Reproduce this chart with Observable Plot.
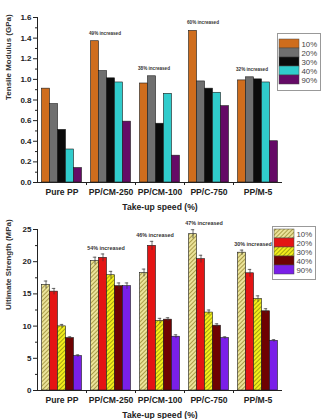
<!DOCTYPE html>
<html>
<head>
<meta charset="utf-8">
<script src="https://cdn.jsdelivr.net/npm/d3@7"></script>
<script src="https://cdn.jsdelivr.net/npm/@observablehq/plot@0.6"></script>
<style>
  html, body { margin: 0; padding: 0; background: #fff; }
  #wrap { position: relative; width: 326px; height: 419px; overflow: hidden; }
  #wrap > div, #wrap > svg { position: absolute; }
  .legend { border: 1px solid #999; background: #fff; box-sizing: border-box; }
</style>
</head>
<body>
<svg width="0" height="0" style="position:absolute">
  <defs>
    <pattern id="hatchPale" patternUnits="userSpaceOnUse" width="3" height="3" patternTransform="rotate(45)">
      <rect width="3" height="3" fill="#ebe39a"></rect>
      <line x1="0.5" y1="0" x2="0.5" y2="3" stroke="#a39540" stroke-width="0.9"></line>
    </pattern>
    <pattern id="hatchYellow" patternUnits="userSpaceOnUse" width="3" height="3" patternTransform="rotate(45)">
      <rect width="3" height="3" fill="#f2ee1a"></rect>
      <line x1="0.5" y1="0" x2="0.5" y2="3" stroke="#9c9a10" stroke-width="0.9"></line>
    </pattern>
  </defs>
</svg>
<div id="wrap"></div>
<script>
// Composites and take-up speeds
const categories = ["Pure PP", "PP/CM-250", "PP/CM-100", "PP/C-750", "PP/M-5"];
const speeds = ["10%", "20%", "30%", "40%", "90%"];

// Tensile modulus (GPa): one row per composite, columns follow `speeds`
const modulus = [
  [0.91, 0.76, 0.51, 0.32, 0.14],
  [1.37, 1.08, 1.01, 0.97, 0.59],
  [0.96, 1.03, 0.57, 0.86, 0.26],
  [1.47, 0.98, 0.91, 0.87, 0.74],
  [0.99, 1.02, 1.00, 0.97, 0.40]
];
const modulusNotes = ["", "49% increased", "38% increased", "60% increased", "32% increased"];

// Ultimate strength (MPa) with standard deviations
const strength = [
  [16.4, 15.35, 9.96, 8.14, 5.34],
  [20.1, 20.6, 17.9, 16.2, 16.2],
  [18.25, 22.46, 10.8, 11.0, 8.35],
  [24.27, 20.4, 12.1, 10.06, 8.14],
  [21.4, 18.2, 14.2, 12.3, 7.7]
];
const strengthErr = [
  [0.6, 0.5, 0.3, 0.2, 0.2],
  [0.6, 0.6, 0.6, 0.5, 0.5],
  [0.6, 0.7, 0.4, 0.3, 0.3],
  [0.7, 0.6, 0.4, 0.3, 0.2],
  [0.4, 0.6, 0.5, 0.4, 0.2]
];
const strengthNotes = ["", "54% increased", "46% increased", "47% increased", "30% increased"];

const modulusTicks = [0, 0.2, 0.4, 0.6, 0.8, 1.0, 1.2, 1.4, 1.6];
const strengthTicks = [0, 5, 10, 15, 20, 25];

const modulusColors = ["#cf6d1d", "#6f6f6f", "#0b0b0b", "#30cccc", "#650a66"];
const strengthColors = ["url(#hatchPale)", "#e41414", "url(#hatchYellow)", "#6e0202", "#7a1fe8"];

const BW = 0.163;            // bar width in category units
const INK = "#222";
const font = {fontFamily: "'Liberation Sans', Arial, sans-serif", fontWeight: "bold", color: INK, background: "transparent", overflow: "visible"};

function rowsFor(values, errs) {
  return categories.flatMap((c, i) => speeds.map((s, j) => ({
    ci: i, sj: j, speed: s, value: values[i][j], err: errs ? errs[i][j] : 0
  })));
}

function barChart({values, errs, notes, colors, ticks, minor, tickFmt, yMax, yLabel, height, marginTop, marginBottom, noteDx, noteDy, noteSize}) {
  const rows = rowsFor(values, errs);
  const center = d => d.ci + (d.sj - 2) * BW;
  const noteRows = categories.map((c, i) => ({ci: i, text: notes[i], top: d3.max(values[i], (v, j) => v + (errs ? errs[i][j] : 0))}))
    .filter(d => d.text);
  const marks = [
    Plot.rectY(rows, {
      x1: d => d.ci + (d.sj - 2.5) * BW,
      x2: d => d.ci + (d.sj - 1.5) * BW,
      y: "value", fill: "speed", stroke: "#1a1a1a", strokeWidth: 0.6
    })
  ];
  if (errs) {
    marks.push(
      Plot.ruleX(rows, {x: center, y1: d => d.value - d.err, y2: d => d.value + d.err, stroke: "#333", strokeWidth: 0.7}),
      Plot.ruleY(rows, {y: d => d.value + d.err, x1: d => center(d) - 0.035, x2: d => center(d) + 0.035, stroke: "#333", strokeWidth: 0.7})
    );
  }
  marks.push(
    Plot.text(noteRows, {x: "ci", y: "top", text: "text", dx: noteDx, dy: noteDy, fontSize: noteSize, fill: "#333", textAnchor: "middle"}),
    Plot.ruleX([-0.5], {stroke: INK, strokeWidth: 1}),
    Plot.ruleY([0], {stroke: INK, strokeWidth: 1}),
    Plot.axisY({ticks, tickFormat: tickFmt, tickSize: 4, tickPadding: 2, label: null, fontSize: 8}),
    Plot.axisY({ticks: minor, tickFormat: () => "", tickSize: 2, label: null}),
    Plot.axisX({ticks: [0, 1, 2, 3, 4], tickFormat: i => categories[i], tickSize: 0, tickPadding: 6, label: null, fontSize: 8.6}),
    Plot.axisX({ticks: [0.5, 1.5, 2.5, 3.5], tickFormat: () => "", tickSize: 3, label: null}),
    Plot.text(["Take-up speed (%)"], {frameAnchor: "bottom", dy: 27, fontSize: 8.6, fill: INK}),
    Plot.text([yLabel], {frameAnchor: "left", rotate: -90, dx: -29, fontSize: 8, fill: "#333"})
  );
  return Plot.plot({
    width: 326, height, marginLeft: 37, marginRight: 44, marginTop, marginBottom,
    style: font,
    x: {type: "linear", domain: [-0.5, 4.5], axis: null},
    y: {domain: [0, yMax], axis: null},
    color: {domain: speeds, range: colors},
    marks
  });
}

function legendBox(colors, {w, h, rowTop, rowBottom}) {
  const el = Plot.plot({
    width: w - 2, height: h - 2, margin: 0, marginTop: rowTop, marginBottom: rowBottom,
    style: {...font, color: "#444"},
    x: {domain: [0, w - 2], axis: null},
    y: {domain: speeds, axis: null, padding: 0},
    color: {domain: speeds, range: colors},
    marks: [
      Plot.barX(speeds, {x1: 1, x2: 21, y: d => d, fill: d => d, stroke: "#444", strokeWidth: 0.5}),
      Plot.text(speeds, {x: 23, y: d => d, text: d => d, textAnchor: "start", fontSize: 7.8, fontWeight: "normal", fill: "#444"})
    ]
  });
  const box = document.createElement("div");
  box.className = "legend";
  box.style.width = w + "px";
  box.style.height = h + "px";
  box.appendChild(el);
  return box;
}

const wrap = document.getElementById("wrap");

const modulusChart = barChart({
  values: modulus, notes: modulusNotes, colors: modulusColors,
  ticks: modulusTicks, minor: [0.1, 0.3, 0.5, 0.7, 0.9, 1.1, 1.3, 1.5], tickFmt: d => d.toFixed(1),
  yMax: 1.6, yLabel: "Tensile Modulus (GPa)", height: 215, marginTop: 17, marginBottom: 33,
  noteDx: -6, noteDy: -8, noteSize: 4.6
});
modulusChart.style.left = "0px"; modulusChart.style.top = "0px";
wrap.appendChild(modulusChart);

const strengthChart = barChart({
  values: strength, errs: strengthErr, notes: strengthNotes, colors: strengthColors,
  ticks: strengthTicks, minor: [2.5, 7.5, 12.5, 17.5, 22.5], tickFmt: d => String(d),
  yMax: 25, yLabel: "Ultimate Strength (MPa)", height: 204, marginTop: 14, marginBottom: 29,
  noteDx: -5, noteDy: -6, noteSize: 5.4
});
strengthChart.style.left = "0px"; strengthChart.style.top = "215px";
wrap.appendChild(strengthChart);

const legendModulus = legendBox(modulusColors, {w: 44, h: 58, rowTop: 3, rowBottom: 5});
legendModulus.style.left = "277px"; legendModulus.style.top = "33px";
wrap.appendChild(legendModulus);

const legendStrength = legendBox(strengthColors, {w: 44, h: 54, rowTop: 1, rowBottom: 4});
legendStrength.style.left = "272px"; legendStrength.style.top = "226px";
wrap.appendChild(legendStrength);
</script>
</body>
</html>
